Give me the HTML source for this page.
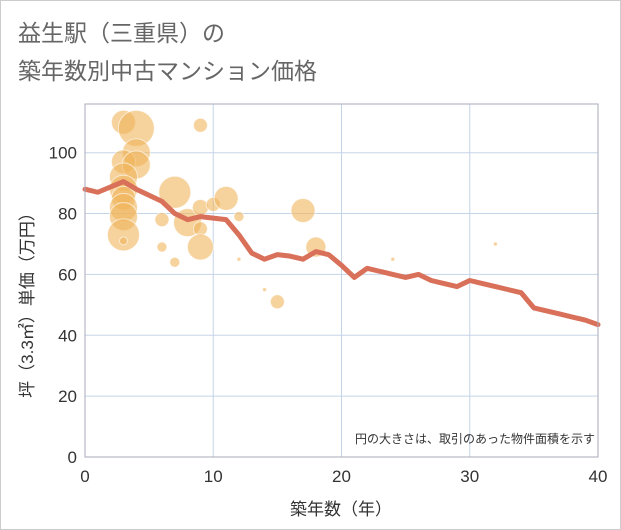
<!DOCTYPE html>
<html><head><meta charset="utf-8">
<style>
html,body{margin:0;padding:0;background:#fff}
#wrap{position:relative;width:619px;height:528px;border:1px solid #ccc;overflow:hidden}
svg text{font-family:"Liberation Sans","Noto Sans CJK JP",sans-serif}
</style></head><body>
<div id="wrap">
<svg id="chart" width="619" height="528">
<text x="17" y="40" font-size="23" fill="#666">益生駅（三重県）の</text>
<text x="17" y="78" font-size="23" fill="#666">築年数別中古マンション価格</text>
<g id="grid"></g>
<g id="bubbles"></g>
<g id="line"></g>
<g id="axes"></g>
<text x="594" y="442" font-size="12" fill="#333" text-anchor="end">円の大きさは、取引のあった物件面積を示す</text>
<text x="340" y="514" font-size="17" fill="#333" text-anchor="middle">築年数（年）</text>
<text transform="translate(32,300) rotate(-90)" font-size="17" fill="#333" text-anchor="middle">坪（3.3㎡）単価（万円）</text>
</svg>
</div>
<script>
const xTicks=[0,10,20,30,40];
const yTicks=[0,20,40,60,80,100];
const lineYears=[0,1,3,4,6,7,8,9,10,11,12,13,14,15,16,17,18,19,20,21,22,23,24,25,26,27,28,29,30,31,32,33,34,35,36,37,38,39,40];
const lineValues=[88,87,90.5,88,84,80,78,79,78.5,78,73,67,65,66.5,66,65,67.5,66.5,63,59,62,61,60,59,60,58,57,56,58,57,56,55,54,49,48,47,46,45,43.5];
const bubbleYears=[3,4,4,3,4,3,3,3,3,3,3,3,9,7,6,8,9,10,11,9,9,6,7,12,12,17,18,14,15,24,32];
const bubbleValues=[110,108,100,97,96,92,88,85,82,79,73,71,109,87,78,77,82,83,85,75,69,69,64,79,65,81,69,55,51,65,70];
const bubbleSizes=[12,18,14,12,14,14,14,12,14,14,16,4,7,16,7,14,8,7,12,7,13,5,5,5,2,12,10,2,7,2,2];
const X0=84,X1=597,Y0=456,Y1=103,XMAX=40,YMAX=116;
const sx=v=>X0+(X1-X0)*v/XMAX;
const sy=v=>Y0-(Y0-Y1)*v/YMAX;
const NS="http://www.w3.org/2000/svg";
function mk(tag,parent,attrs){const e=document.createElementNS(NS,tag);for(const k in attrs)e.setAttribute(k,attrs[k]);parent.appendChild(e);return e;}
const grid=document.getElementById('grid'),axes=document.getElementById('axes');
xTicks.forEach(t=>{
  const l=mk('line',grid,{x1:sx(t),x2:sx(t),y1:Y1,y2:Y0,stroke:'#c5d5e8','stroke-width':1});
  
  
  const tx=mk('text',axes,{x:sx(t),y:Y0+25,'font-size':17,fill:'#333','text-anchor':'middle'});
  tx.textContent=t;
  
  
});
yTicks.forEach(t=>{
  const l=mk('line',grid,{x1:X0,x2:X1,y1:sy(t),y2:sy(t),stroke:'#c5d5e8','stroke-width':1});
  
  
  const tx=mk('text',axes,{x:X0-8,y:sy(t)+6,'font-size':17,fill:'#333','text-anchor':'end'});
  tx.textContent=t;
  
  
});
const frame=mk('rect',axes,{x:X0,y:Y1,width:X1-X0,height:Y0-Y1,fill:'none',stroke:'#aab','stroke-width':1});


const bg=document.getElementById('bubbles');
bubbleYears.forEach((yr,i)=>{
  const c=mk('circle',bg,{cx:sx(yr),cy:sy(bubbleValues[i]),r:bubbleSizes[i],fill:'rgba(240,180,90,0.6)',stroke:'rgba(255,255,255,0.6)','stroke-width':1});
  
  
});
const pts=lineYears.map((yr,i)=>sx(yr)+','+sy(lineValues[i])).join(' ');
const pl=mk('polyline',document.getElementById('line'),{points:pts,fill:'none',stroke:'#d9705a','stroke-width':5,'stroke-linejoin':'round','stroke-linecap':'round'});


</script>
</body></html>
